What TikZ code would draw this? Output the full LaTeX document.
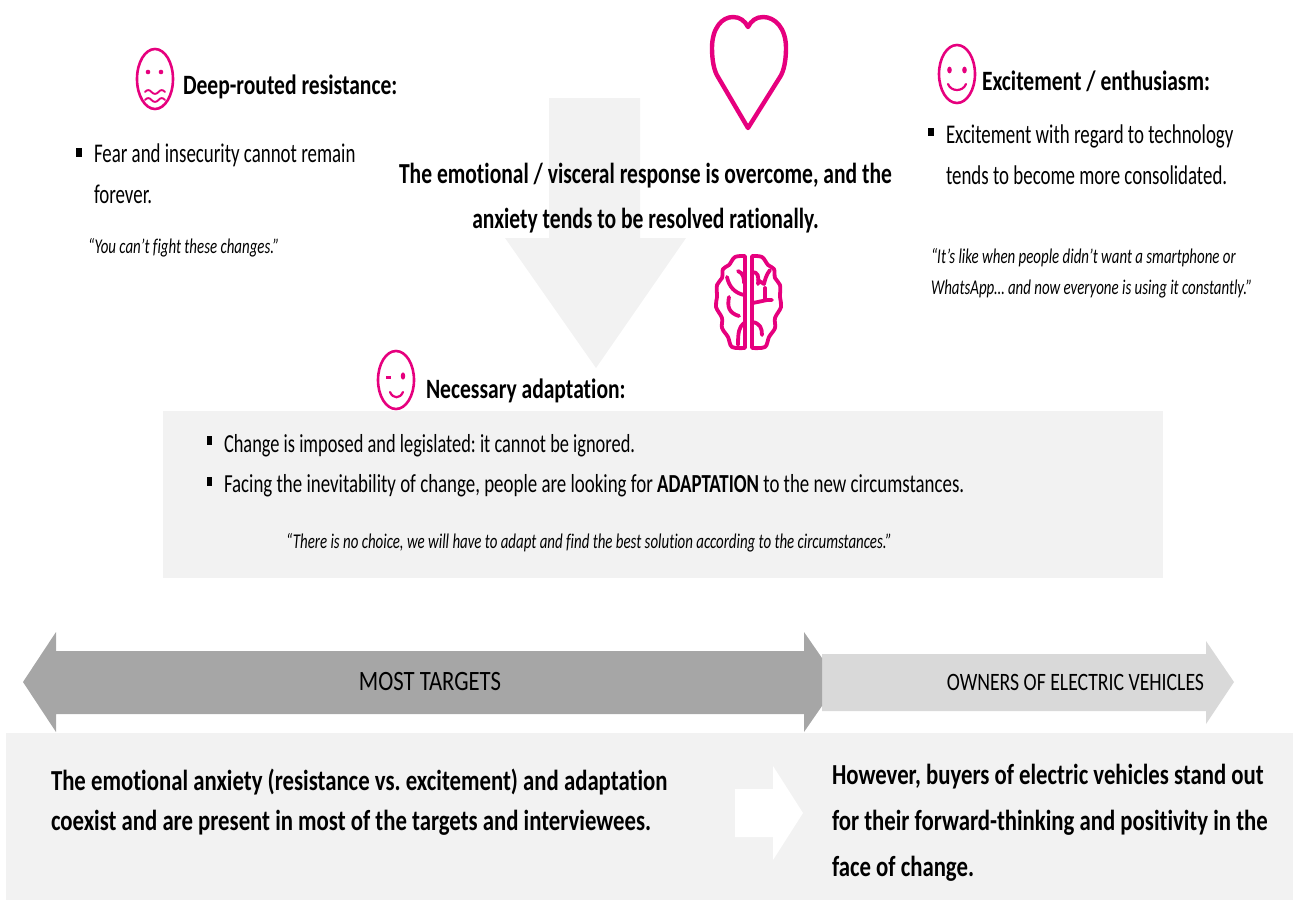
\documentclass[tikz,border=0pt]{standalone}
\usepackage{fontspec}
\setmainfont[Ligatures=NoCommon]{Carlito}
\newfontfamily\fHead[FakeStretch=0.77,Ligatures=NoCommon]{Carlito}
\newfontfamily\fBig[FakeStretch=0.743,Ligatures=NoCommon]{Carlito}
\newfontfamily\fLow[FakeStretch=0.785,Ligatures=NoCommon]{Carlito}
\newfontfamily\fBody[FakeStretch=0.70,Ligatures=NoCommon]{Carlito}
\newfontfamily\fBodyB[FakeStretch=0.727,Ligatures=NoCommon]{Carlito}
\newfontfamily\fBodyC[FakeStretch=0.707,Ligatures=NoCommon]{Carlito}
\newfontfamily\fQuot[FakeStretch=0.71,Ligatures=NoCommon]{Carlito}
\newfontfamily\fMost[FakeStretch=0.81,Ligatures=NoCommon]{Carlito}
\newfontfamily\fOwn[FakeStretch=0.79,Ligatures=NoCommon]{Carlito}
\frenchspacing
\definecolor{pink}{HTML}{E6007E}
\definecolor{panel}{HTML}{F2F2F2}
\definecolor{darkarrow}{HTML}{A6A6A6}
\definecolor{lightarrow}{HTML}{D9D9D9}
\tikzset{
 lab/.style={anchor=base west,inner sep=0pt,outer sep=0pt,text=black},
 ctr/.style={anchor=base,inner sep=0pt,outer sep=0pt,text=black},
 head/.style={lab,font=\fontsize{28}{30}\fHead\bfseries},
 big/.style={ctr,font=\fontsize{29}{31}\fBig\bfseries},
 body/.style={lab,font=\fontsize{27}{30}\fBody},
 bodyb/.style={lab,font=\fontsize{26}{30}\fBodyB},
 bodyc/.style={lab,font=\fontsize{26}{30}\fBodyC},
 quot/.style={lab,font=\fontsize{21}{24}\fQuot\itshape},
 low/.style={lab,font=\fontsize{29}{32}\fLow\bfseries},
 face/.style={draw=pink,line width=2.6pt,fill=white},
 ink/.style={draw=pink,line width=2.2pt,line cap=round,line join=round},
 dotp/.style={fill=pink,draw=none},
 bul/.style={fill=black,draw=none},
}
\begin{document}
\begin{tikzpicture}[x=1pt,y=-1pt]
\useasboundingbox (0,0) rectangle (1293,900);
% background shapes
\fill[panel] (163,411) rectangle (1163,578);
\fill[panel] (6,733) rectangle (1293,900);
\fill[panel] (549,98) -- (640,98) -- (640,238) -- (686,238) -- (596,368) -- (505,238) -- (549,238) -- cycle;
\fill[lightarrow] (822,654) -- (1206,654) -- (1206,641) -- (1234,682) -- (1206,724) -- (1206,711) -- (822,711) -- cycle;
\fill[darkarrow] (23,682) -- (56,632) -- (56,651) -- (804,651) -- (804,632) -- (822,658) -- (822,706) -- (804,732) -- (804,714) -- (56,714) -- (56,732) -- cycle;
\fill[white] (735,789) -- (773,789) -- (773,766) -- (803,813) -- (773,860) -- (773,837) -- (735,837) -- cycle;
% heart
\draw[pink,line width=4.4pt,line join=round] (748,128) -- (718,77) .. controls (714,71) and (712,60) .. (712,48) .. controls (712,28) and (722,17) .. (733,17) .. controls (740,17) and (745,21) .. (748,27) .. controls (751,21) and (756,17) .. (763,17) .. controls (775,17) and (786,28) .. (786,48) .. controls (786,60) and (784,71) .. (780,77) -- cycle;
% faces
\draw[face] (155,79) ellipse (18 and 30);
\fill[dotp] (148,72) circle (2.3); \fill[dotp] (161,72) circle (2.3);
\draw[ink,line width=1.9pt] (145,92) .. controls (147,89.5) and (149.5,89.5) .. (151.5,92) .. controls (153.5,94.5) and (156.5,94.5) .. (158.5,92) .. controls (160.5,89.5) and (163,89.5) .. (165,92);
\draw[ink,line width=1.9pt] (145,100) .. controls (147,97.5) and (149.5,97.5) .. (151.5,100) .. controls (153.5,102.5) and (156.5,102.5) .. (158.5,100) .. controls (160.5,97.5) and (163,97.5) .. (165,100);
\draw[face] (957,74) ellipse (18 and 29);
\fill[dotp] (949.5,70) ellipse (2.3 and 3.4); \fill[dotp] (964.5,70) ellipse (2.3 and 3.4);
\draw[ink] (948,84) .. controls (951,92) and (963,92) .. (966,84);
\draw[face] (396,380) ellipse (18 and 29);
\fill[dotp] (386,375.5) rectangle (391,379); \fill[dotp] (403,376) ellipse (2.2 and 3.6);
\draw[ink] (390,392) .. controls (393,399) and (400,399) .. (403,392);
% brain
\begin{scope}[ink,line width=3.8pt]
\draw plot[smooth,tension=.55] coordinates {(745,256) (735,257) (729,265) (723,269) (722,278) (717,285) (717,297) (716,307) (722,318) (722,328) (728,337) (732,347) (745,348)} -- cycle;
\draw plot[smooth,tension=.55] coordinates {(752,256) (762,257) (768,265) (774,269) (775,278) (780,285) (780,297) (781,307) (775,318) (775,328) (769,337) (765,347) (752,348)} -- cycle;
\draw (738,271) .. controls (744,273) and (744,280) .. (744,283);
\draw (727,277) .. controls (729,287) and (735,293) .. (744,295);
\draw (729,297) .. controls (727,307) and (729,313) .. (739,316);
\draw (744,323) .. controls (739,327) and (738,332) .. (738,345);
\draw (752,272) .. controls (758,272) and (759,276) .. (758,284);
\draw (770,270) .. controls (766,275) and (765,280) .. (764,284) .. controls (761,282) and (759,281) .. (758,280);
\draw (765,288) -- (765,300);
\draw (752,303) .. controls (760,302) and (768,299) .. (772,300);
\draw (752,322) .. controls (760,323) and (762,328) .. (762,335);
\end{scope}
% top-left
\node[head] (t1) at (183,94) {Deep-routed resistance:};
\fill[bul] (75.5,148) rectangle (81.5,156.5);
\node[body] (a1) at (94,162) {Fear and insecurity cannot remain};
\node[body] (a2) at (94,203) {forever.};
\node[quot] (a3) at (88,253) {“You can’t fight these changes.”};
% centre
\node[big] (c1) at (645.5,183) {The emotional / visceral response is overcome, and the};
\node[big] (c2) at (645.5,228) {anxiety tends to be resolved rationally.};
% top-right
\node[head] (t3) at (982,90) {Excitement / enthusiasm:};
\fill[bul] (928,127.5) rectangle (934,136);
\node[body] (b1) at (946,143) {Excitement with regard to technology};
\node[body] (b2) at (946,184) {tends to become more consolidated.};
\node[quot] (b3) at (931,263) {“It’s like when people didn’t want a smartphone or};
\node[quot] (b4) at (931,294) {WhatsApp… and now everyone is using it constantly.”};
% adaptation
\node[head] (t2) at (426,398) {Necessary adaptation:};
\fill[bul] (206.5,436) rectangle (212,444.5);
\node[bodyc] (d1) at (224,452) {Change is imposed and legislated: it cannot be ignored.};
\fill[bul] (206.5,477) rectangle (212,485.5);
\node[bodyb] (d2) at (224,492) {Facing the inevitability of change, people are looking for \textbf{ADAPTATION} to the new circumstances.};
\node[quot] (d3) at (286,548) {“There is no choice, we will have to adapt and find the best solution according to the circumstances.”};
% arrows text
\node[ctr,font=\fontsize{28}{30}\fMost] (m1) at (430,690) {MOST TARGETS};
\node[ctr,font=\fontsize{25}{30}\fOwn] (m2) at (1075.5,690) {OWNERS OF ELECTRIC VEHICLES};
% bottom
\node[low] (e1) at (51,790) {The emotional anxiety (resistance vs. excitement) and adaptation};
\node[low] (e2) at (51,830) {coexist and are present in most of the targets and interviewees.};
\node[low] (f1) at (832,784) {However, buyers of electric vehicles stand out};
\node[low] (f2) at (832,830) {for their forward-thinking and positivity in the};
\node[low] (f3) at (832,876) {face of change.};
\end{tikzpicture}
\end{document}
